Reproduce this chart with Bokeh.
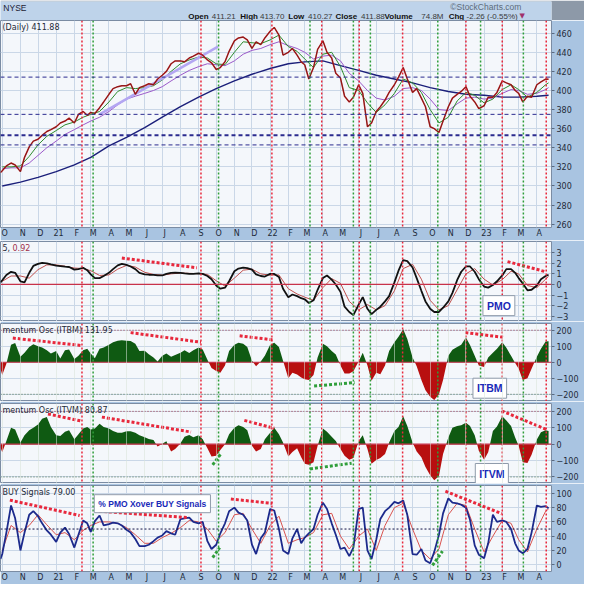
import pandas as pd
from bokeh.plotting import figure
from bokeh.layouts import column
from bokeh.models import Range1d, FixedTicker, Span, Label
from bokeh.embed import file_html
from bokeh.resources import INLINE

# ---------------------------------------------------------------- data
MONTHS = ([(2020, m) for m in (10, 11, 12)] + [(2021, m) for m in range(1, 13)]
          + [(2022, m) for m in range(1, 13)] + [(2023, m) for m in (1, 2, 3, 4)])
weekly_dates = ["2020-09-28"] + [f"{y}-{m:02d}-{d:02d}" for y, m in MONTHS for d in (1, 8, 16, 23)]
weekly_dates[-1] = "2023-04-21"
semi_dates = [f"{y}-{m:02d}-{d:02d}" for y, m in MONTHS for d in (1, 16)] + ["2023-04-21"]
monthly_dates = [f"{y}-{m:02d}-01" for y, m in MONTHS] + ["2023-04-21"]
month_starts = [f"{y}-{m:02d}-01" for y, m in MONTHS]
month_labels = ["O", "N", "D", "21", "F", "M", "A", "M", "J", "J", "A", "S", "O", "N", "D",
                "22", "F", "M", "A", "M", "J", "J", "A", "S", "O", "N", "D",
                "23", "F", "M", "A"]

price_close = [314,
    316, 321, 324, 322,  315, 330, 341, 347,  349, 353, 357, 359,
    362, 366, 368, 371,  366, 375, 378, 374,  377, 376, 382, 388,
    396, 402, 404, 405,  405, 407, 396, 403,  405, 407, 406, 412,
    416, 420, 428, 431,  431, 430, 434, 436,  439, 437, 432, 429,
    422, 424, 430, 441,  452, 455, 456, 453,  444, 451, 448, 455,
    462, 466, 458, 437,  440, 444, 437, 430,  427, 412, 424, 443,
    452, 440, 434, 418,  413, 394, 388, 393,  406, 397, 362, 366,
    378, 383, 390, 398,  406, 414, 424, 412,  398, 402, 392, 383,
    362, 360, 356, 368,  383, 392, 396, 399,  404, 394, 388, 381,
    384, 393, 393, 398,  410, 408, 406, 400,  397, 388, 394, 393,
    406, 409, 412, 411.88]

ema20 = [320, 320, 321, 331, 343, 352,
    358, 364, 367, 372, 375, 378, 388, 399, 403, 402, 403, 405,
    411, 420, 428, 432, 435, 434, 428, 427, 440, 451, 450, 449,
    453, 458, 446, 441, 433, 424, 438, 440, 425, 403, 400, 387,
    377, 385, 397, 412, 408, 398, 380, 366, 372, 389, 398, 395,
    387, 391, 401, 406, 401, 393, 398, 406, 408]

ema50 = [318, 319, 319, 324, 332, 340,
    347, 354, 359, 364, 368, 372, 378, 385, 391, 394, 397, 400,
    404, 410, 416, 421, 425, 428, 427, 426, 431, 438, 442, 444,
    448, 451, 447, 444, 440, 433, 436, 437, 431, 418, 410, 400,
    392, 390, 394, 402, 403, 400, 391, 380, 379, 386, 392, 393,
    391, 392, 397, 401, 400, 396, 397, 401, 403]

sma200 = [300, 304, 309,
    315, 322, 330, 342, 351, 361, 372, 383, 393, 402, 410, 417,
    423, 428, 430, 431, 426, 421, 416, 412, 408, 403, 399, 396,
    395, 393, 393, 394, 395]

price_levels = [414, 375, 353, 343]
price_trend_dates = ["2021-03-16", "2021-10-04"]
price_trend_vals = [375, 446]

pmo = [0.2,
    0.4, 0.9, 1.2, 1.1,  0.3, 0.2, 1.1, 1.75,  1.95, 2.05, 2.0, 1.9,
    1.78, 1.74, 1.68, 1.65,  1.4, 1.45, 1.58, 1.35,  0.95, 0.6, 0.6, 0.8,
    1.1, 1.45, 1.8, 1.95,  1.85, 1.7, 1.45, 1.1,  0.95, 0.92, 0.9, 0.85,
    0.85, 1.0, 1.1, 1.12,  1.1, 1.05, 1.0, 1.0,  1.05, 1.0, 0.8, 0.5,
    -0.1, -0.4, -0.3, 0.3,  1.25, 1.5, 1.6, 1.55,  1.4, 0.95, 0.8, 0.75,
    1.0, 1.0, 0.7, -0.4,  -1.2, -0.95, -1.1, -1.3,  -1.4, -1.75, -1.5, -0.5,
    0.6, 0.85, 0.45, 0.0,  -0.7, -2.1, -2.6, -2.9,  -1.9, -1.2, -2.3, -2.8,
    -2.4, -2.1, -1.6, -1.1,  0.2, 1.3, 2.3, 2.2,  1.6, 0.6, -0.6, -1.6,
    -2.3, -2.6, -2.6, -2.2,  -1.6, -0.8, 0.4, 1.2,  1.7, 1.7, 1.2, 0.5,
    -0.2, -0.3, -0.05, 0.3,  0.85, 1.45, 1.45, 1.1,  0.6, 0.1, -0.55, -0.5,
    -0.1, 0.5, 0.8, 0.92]

pmo_signal = [0.3, 0.8, 0.8, 0.6, 1.4, 1.85,
    1.85, 1.72, 1.55, 1.5, 1.3, 0.85, 0.9, 1.45, 1.8, 1.65, 1.15, 0.95,
    0.88, 1.0, 1.08, 1.05, 1.02, 0.95, 0.35, -0.15, 0.6, 1.35, 1.45, 1.0,
    0.88, 0.9, -0.4, -0.9, -1.2, -1.5, -0.3, 0.55, 0.1, -1.6, -2.4, -1.9,
    -2.4, -2.0, -0.6, 1.5, 1.9, 0.5, -1.5, -2.4, -2.0, -0.5, 1.0, 1.5,
    0.5, -0.05, 0.45, 1.25, 1.0, -0.1, -0.3, 0.5, 0.77]

pmo_div_dates = [["2021-04-23", "2021-08-29"], ["2023-02-10", "2023-04-17"]]
pmo_div_vals = [[2.5, 1.57], [2.16, 1.19]]

itbm = [-40,
    -80, -10, 110, 120,  35, 60, 95, 113,  100, 92, 75, 55,
    70, 24, 75, 80,  20, 40, 75, 85,  55, 25, 85, 92,
    110, 125, 135, 137,  135, 133, 115, 70,  72, 50, 30, 5,
    40, 55, 35, 45,  60, 75, 58, 75,  92, 80, 15, -36,
    -55, -66, -20, 70,  110, 122, 115, 95,  10, -25, 5, 40,
    110, 122, 95, 10,  -100, -66, -76, -95,  -106, -110, -80, 30,
    115, 100, 70, 48,  -20, -70, -70, -56,  5, 60, -20, -115,
    -66, -75, -20, 70,  125, 160, 206, 145,  30, -25, -110, -175,
    -215, -235, -200, -110,  40, 78, 95, 110,  155, 108, 40, -20,
    -30, 30, 60, 85,  125, 90, 40, -5,  -40, -110, -100, -40,
    34, 85, 130, 131.95]

itbm_red_dates = [["2020-10-19", "2021-02-12"], ["2021-05-08", "2021-09-05"],
                  ["2021-11-10", "2022-01-08"], ["2022-11-30", "2023-02-05"]]
itbm_red_vals = [[151, 105], [185, 125], [165, 139], [185, 155]]
itbm_green_dates = [["2022-03-17", "2022-05-25"]]
itbm_green_vals = [[-148, -127]]

itvm = [-20,
    -50, 20, 100, 90,  10, 55, 85, 100,  120, 155, 165, 105,
    55, 50, 75, 85,  30, 60, 95, 105,  90, 95, 125, 105,
    95, 80, 70, 70,  78, 78, 70, 55,  42, 32, 25, -15,
    3, 18, -45, -30,  5, 45, 56, 42,  55, 30, -25, -75,
    -70, -35, 0, 60,  100, 115, 105, 85,  -10, -45, -30, 30,
    70, 100, 60, 10,  -75, -48, -25, -80,  -120, -125, -110, -10,
    95, 75, 45, 20,  -30, -70, -95, -85,  20, 55, -30, -120,
    -97, -85, -60, 10,  80, 105, 170, 110,  10, -45, -80, -140,
    -190, -220, -195, -60,  40, 100, 110, 115,  130, 110, 55, -40,
    -95, -50, 80, 107,  170, 145, 110, 40,  -10, -110, -115, -65,
    29, 72, 85, 80.87]

itvm_red_dates = [["2020-12-18", "2021-02-14"], ["2021-03-20", "2021-08-19"],
                  ["2021-11-18", "2022-01-08"], ["2023-01-31", "2023-04-19"]]
itvm_red_vals = [[184, 140], [165, 74], [145, 97], [203, 87]]
itvm_green_dates = [["2021-09-25", "2021-10-09"], ["2022-03-10", "2022-05-20"]]
itvm_green_vals = [[-126, -58], [-151, -116]]

buy_pct = [8,
    15, 45, 83, 65,  20, 45, 70, 75,  68, 58, 48, 42,
    32, 45, 52, 43,  24, 42, 62, 58,  46, 61, 69, 55,
    57, 59, 58, 55,  49, 45, 36, 26,  26, 28, 33, 38,
    41, 47, 44, 42,  64, 65, 66, 60,  58, 60, 33, 22,
    28, 44, 58, 75,  80, 73, 70, 62,  28, 15, 37, 45,
    78, 76, 50, 20,  15, 37, 50, 30,  38, 44, 50, 70,
    87, 78, 58, 42,  22, 24, 12, 24,  78, 80, 20, 8,
    35, 64, 75, 80,  88, 86, 90, 70,  15, 14, 22, 6,
    2, 18, 42, 72,  93, 87, 86, 84,  80, 63, 27, 14,
    9, 30, 70, 60,  62, 60, 50, 30,  20, 16, 22, 45,
    83, 81, 82, 79]

buy_signal = [20, 55, 45, 55, 70, 56,
    42, 45, 35, 48, 55, 60, 60, 58, 52, 42, 30, 30,
    38, 44, 52, 62, 60, 50, 33, 45, 70, 72, 50, 30,
    55, 68, 30, 35, 38, 45, 70, 72, 40, 22, 40, 50,
    20, 55, 80, 86, 50, 20, 8, 22, 70, 86, 83, 50,
    18, 40, 62, 58, 35, 18, 50, 75, 78]

buy_red_dates = [["2020-10-14", "2021-02-10"], ["2021-03-15", "2021-08-14"],
                 ["2021-10-26", "2022-01-05"], ["2022-10-27", "2023-01-31"]]
buy_red_vals = [[90.5, 69], [75, 66], [92, 86], [103, 71.5]]
buy_green_dates = [["2021-09-25", "2021-10-07"], ["2022-10-05", "2022-10-22"]]
buy_green_vals = [[10, 24], [-1, 19]]

red_signal_dates = ["2021-02-14", "2021-09-05", "2022-01-04", "2022-03-30", "2022-06-02",
                    "2022-08-15", "2022-12-01", "2023-02-01", "2023-04-17"]
green_signal_dates = ["2021-03-05", "2021-10-05", "2022-03-10", "2022-05-23", "2022-06-21",
                      "2022-10-14", "2022-12-26", "2023-03-09"]

for name, arr, ref in [("price", price_close, weekly_dates), ("pmo", pmo, weekly_dates),
                       ("itbm", itbm, weekly_dates), ("itvm", itvm, weekly_dates),
                       ("buy", buy_pct, weekly_dates), ("ema20", ema20, semi_dates),
                       ("ema50", ema50, semi_dates), ("pmo_sig", pmo_signal, semi_dates),
                       ("buy_sig", buy_signal, semi_dates), ("sma", sma200, monthly_dates)]:
    assert len(arr) == len(ref), f"{name}: {len(arr)} vs {len(ref)}"

# ---------------------------------------------------------------- helpers
BASE = pd.Timestamp("2021-01-01")


def dn(dates):
    return [int((pd.Timestamp(d) - BASE).days) for d in dates]


xw = dn(weekly_dates)
xs = dn(semi_dates)
xm = dn(monthly_dates)
month_x = dn(month_starts)
label_x = [v + 4 for v in month_x]

W = 584
FONT = "DejaVu Sans"
AX_BG = "#a9c4e1"
PANEL_BG = "#f4f7fb"
GRID_C = "#cad7e7"
RED_SIG = "#e8283c"
GREEN_SIG = "#2f9e3a"
TXT = "#1e2a38"
xr = Range1d(-95, 845)


def panel(height, yrange, yticks, top, bottom, show_x):
    p = figure(width=W, height=height, x_range=xr, y_range=Range1d(*yrange),
               output_backend="svg", toolbar_location=None, y_axis_location="right",
               min_border_left=0, min_border_right=33, min_border_top=top,
               min_border_bottom=bottom, background_fill_color=PANEL_BG,
               border_fill_color=AX_BG, outline_line_color="#7b8ca3")
    p.xgrid.ticker = FixedTicker(ticks=month_x)
    p.ygrid.ticker = FixedTicker(ticks=yticks)
    p.xgrid.grid_line_color = GRID_C
    p.ygrid.grid_line_color = GRID_C
    ya = p.yaxis[0]
    ya.ticker = FixedTicker(ticks=yticks)
    ya.axis_line_color = None
    ya.major_tick_in = 0
    ya.major_tick_out = 3
    ya.major_tick_line_color = "#5a6a80"
    ya.minor_tick_line_color = None
    ya.major_label_standoff = 2
    ya.major_label_text_font = FONT
    ya.major_label_text_font_size = "8px"
    ya.major_label_text_color = TXT
    xa = p.xaxis[0]
    if show_x:
        xa.ticker = FixedTicker(ticks=label_x)
        xa.major_label_overrides = {t: l for t, l in zip(label_x, month_labels)}
        xa.axis_line_color = None
        xa.major_tick_line_color = None
        xa.major_tick_out = 0
        xa.major_tick_in = 0
        xa.minor_tick_line_color = None
        xa.major_label_standoff = 1
        xa.major_label_text_font = FONT
        xa.major_label_text_font_size = "8px"
        xa.major_label_text_color = TXT
    else:
        xa.visible = False
    for d in dn(red_signal_dates):
        p.add_layout(Span(location=d, dimension="height", line_color=RED_SIG,
                          line_dash="2 2", line_width=1.5))
    for d in dn(green_signal_dates):
        p.add_layout(Span(location=d, dimension="height", line_color=GREEN_SIG,
                          line_dash="2 2", line_width=1.5))
    return p


def title(p, ytop, parts):
    for text, color, off in parts:
        p.add_layout(Label(x=xr.start, y=ytop, x_offset=off, y_offset=-2, text=text,
                           text_baseline="top", text_align="left", text_font=FONT,
                           text_font_size="8px", text_color=color))


def box(p, date, yv, text, size="10.5px"):
    p.add_layout(Label(x=dn([date])[0], y=yv, text=text, text_baseline="middle",
                       text_align="left", text_font="Liberation Sans",
                       text_font_style="bold", text_font_size=size, text_color="#1a2ab8",
                       background_fill_color="white", border_line_color="#8f9bab",
                       padding=4))


def segs(p, dates_list, vals_list, color):
    for d, v in zip(dates_list, vals_list):
        p.line(dn(d), v, line_color=color, line_width=3, line_dash="3 2")


def zero_split(xv, yv):
    px, py = [xv[0]], [yv[0]]
    for i in range(1, len(xv)):
        a, b = yv[i - 1], yv[i]
        if a * b < 0:
            t = a / (a - b)
            px.append(xv[i - 1] + t * (xv[i] - xv[i - 1]))
            py.append(0.0)
        px.append(xv[i])
        py.append(yv[i])
    return px, [max(v, 0.0) for v in py], [min(v, 0.0) for v in py]


# ---------------------------------------------------------------- header
hdr = figure(width=W, height=20, x_range=Range1d(0, W), y_range=Range1d(0, 19),
             output_backend="svg", toolbar_location=None, min_border_left=0,
             min_border_right=0, min_border_top=1, min_border_bottom=0,
             background_fill_color="#bed3ea", border_fill_color="#8d99a8",
             outline_line_color=None)
hdr.xaxis.visible = False
hdr.yaxis.visible = False
hdr.grid.visible = False
HF = "Liberation Sans"
hdr.add_layout(Label(x=3, y=13, text="NYSE", text_baseline="middle", text_font=HF,
                     text_font_size="8.5px", text_color="#223"))
hdr.add_layout(Label(x=552, y=13.5, text="\u00a9StockCharts.com", text_baseline="middle",
                     text_align="right", text_font=HF, text_font_size="8.5px",
                     text_color="#5d6b7a"))
header_parts = [("Open", 199, True), ("411.21", 224, False), ("High", 254, True),
                ("413.70", 275, False), ("Low", 305, True), ("410.27", 326, False),
                ("Close", 355, True), ("411.88", 382, False), ("Volume", 407, True),
                ("74.8M", 446, False), ("Chg", 475, True), ("-2.26 (-0.55%)", 494, False)]
for text, xpos, bold in header_parts:
    hdr.add_layout(Label(x=xpos, y=4.5, text=text, text_baseline="middle", text_font=HF,
                         text_font_size="8px", text_font_style="bold" if bold else "normal",
                         text_color="#111" if bold else "#3a3a3a"))
hdr.add_layout(Label(x=550, y=4.5, text="\u25bc", text_baseline="middle", text_font=FONT,
                     text_font_size="7px", text_color="#a0306a"))

# ---------------------------------------------------------------- price
pp = panel(220, (256.5, 473.3), list(range(260, 461, 20)), 0, 12, True)
for lv in price_levels:
    pp.add_layout(Span(location=lv, dimension="width", line_color="#2b2b8f",
                       line_dash="4 3", line_width=2 if lv == 353 else 1))
pp.line(xm, sma200, line_color="#1b1f7a", line_width=1.4)
pp.line(xs, ema50, line_color="#9b59c9", line_width=1)
pp.line(xs, ema20, line_color="#2e8b2e", line_width=1)
pp.line(dn(price_trend_dates), price_trend_vals, line_color="#b3a6f2", line_width=2.5)
pp.line(xw, price_close, line_color="#c01c1c", line_width=1.5)
pp.line(xw, price_close, line_color="#1a1a1a", line_width=0.5, line_alpha=0.7)
title(pp, 473.3, [("(Daily) 411.88", TXT, 2)])

# ---------------------------------------------------------------- PMO
pm = panel(81, (-3.5, 4.06), [-3, -2, -1, 0, 1, 2, 3], 1, 0, False)
pm.add_layout(Span(location=0, dimension="width", line_color="#c8324a", line_width=1.2))
pm.line(xs, pmo_signal, line_color="#c0504d", line_width=1)
pm.line(xw, pmo, line_color="#111111", line_width=1.8)
segs(pm, pmo_div_dates, pmo_div_vals, RED_SIG)
title(pm, 4.06, [("5,", TXT, 2), ("0.92", "#a0304a", 12)])
box(pm, "2022-12-30", -2.0, "PMO")


# ---------------------------------------------------------------- ITBM / ITVM
def osc_panel(height, yrange, values, red_d, red_v, green_d, green_v, label):
    p = panel(height, yrange, [-200, -100, 0, 100, 200], 2, 0, False)
    px, pos, neg = zero_split(xw, values)
    p.varea(x=px, y1=0, y2=pos, fill_color="#0f5a12")
    p.varea(x=px, y1=0, y2=neg, fill_color="#b80f0f")
    p.xgrid.level = "overlay"
    p.xgrid.grid_line_color = "#d8e4d8"
    p.xgrid.grid_line_alpha = 0.55
    p.add_layout(Span(location=0, dimension="width", line_color="#c8324a", line_width=1.2))
    p.add_layout(Span(location=200, dimension="width", line_color="#9a3040",
                      line_dash="1 2", line_width=1))
    p.add_layout(Span(location=-200, dimension="width", line_color="#4a6e4a",
                      line_dash="1 2", line_width=1))
    segs(p, red_d, red_v, RED_SIG)
    segs(p, green_d, green_v, GREEN_SIG)
    title(p, yrange[1], [(label, TXT, 2)])
    return p


pb = osc_panel(80, (-245, 242), itbm, itbm_red_dates, itbm_red_vals, itbm_green_dates,
               itbm_green_vals, "mentum Osc (ITBM) 131.95")
box(pb, "2022-12-13", -162, "ITBM")
pv = osc_panel(82, (-240, 248), itvm, itvm_red_dates, itvm_red_vals, itvm_green_dates,
               itvm_green_vals, "mentum Osc (ITVM) 80.87")
box(pv, "2022-12-17", -179, "ITVM")

# ---------------------------------------------------------------- % BUY
pu = panel(101, (-9.5, 111), [0, 20, 40, 60, 80, 100], 2, 12, True)
pu.add_layout(Span(location=50, dimension="width", line_color="#111144",
                   line_dash="2 2", line_width=1))
pu.line(xs, buy_signal, line_color="#d9534f", line_width=1)
pu.line(xw, buy_pct, line_color="#1c2a8c", line_width=1.8)
segs(pu, buy_red_dates, buy_red_vals, RED_SIG)
segs(pu, buy_green_dates, buy_green_vals, GREEN_SIG)
title(pu, 111, [("BUY Signals 79.00", TXT, 2)])
box(pu, "2021-03-07", 85.5, "% PMO Xover BUY Signals", size="8.5px")

layout = column(hdr, pp, pm, pb, pv, pu, spacing=0)
open("out.html", "w").write(file_html(layout, INLINE, title="NYSE"))
